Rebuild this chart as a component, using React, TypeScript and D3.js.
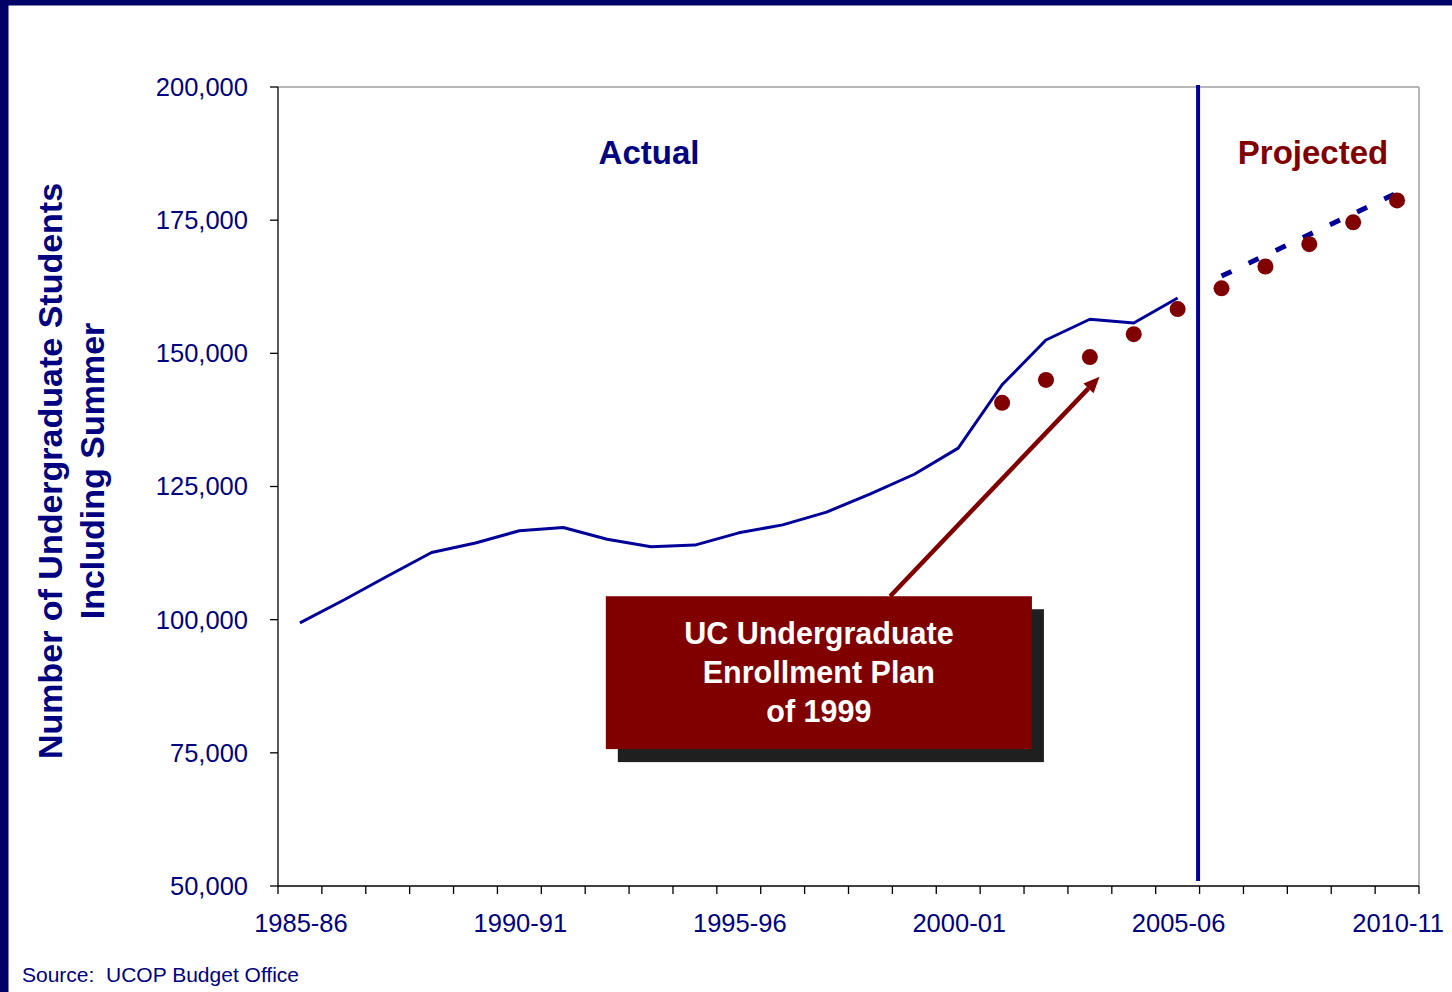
import React from 'react';
import * as d3 from 'd3';

// school years on the x axis
const years = [
  '1985-86', '1986-87', '1987-88', '1988-89', '1989-90', '1990-91', '1991-92',
  '1992-93', '1993-94', '1994-95', '1995-96', '1996-97', '1997-98', '1998-99',
  '1999-00', '2000-01', '2001-02', '2002-03', '2003-04', '2004-05', '2005-06',
  '2006-07', '2007-08', '2008-09', '2009-10', '2010-11',
];
const labelYears = ['1985-86', '1990-91', '1995-96', '2000-01', '2005-06', '2010-11'];

// actual enrollment 1985-86 .. 2005-06
const actualYears = years.slice(0, 21);
const actualValues = [
  99400, 103700, 108200, 112600, 114400, 116700, 117300, 115100, 113700, 114000,
  116300, 117800, 120200, 123600, 127300, 132200, 144100, 152500, 156400, 155700, 160400,
];

// 1999 plan, 2001-02 .. 2010-11
const planYears = years.slice(16);
const planValues = [140700, 145000, 149300, 153600, 158300, 162200, 166300, 170500, 174600, 178700];

// projected enrollment 2006-07 .. 2010-11
const projYears = years.slice(21);
const projValues = [164500, 168400, 172300, 176200, 180100];

const yTicks = [50000, 75000, 100000, 125000, 150000, 175000, 200000];

const NAVY = '#000080';
const LINE = '#000099';
const RED = '#800000';
const FONT = '"Liberation Sans", Arial, sans-serif';

const W = 1452;
const H = 992;
const left = 278, right = 1419, top = 87, bottom = 886;

const App = () => {
  const x = d3.scaleBand<string>().domain(years).range([left, right]).padding(0);
  const y = d3.scaleLinear().domain([50000, 200000]).range([bottom, top]);
  const cx = (yr: string) => (x(yr) as number) + x.bandwidth() / 2;
  const step = x.step();

  const line = d3.line<[string, number]>().x(d => cx(d[0])).y(d => y(d[1]));
  const actualPath = line(actualYears.map((yr, i) => [yr, actualValues[i]]));
  const projPath = line(projYears.map((yr, i) => [yr, projValues[i]]));

  // boundaries between bands (Excel style ticks)
  const boundaries = d3.range(years.length + 1).map(i => left + i * step);

  // callout box and arrow, placed in plot units
  const boxX0 = left + step * 7.47;
  const boxX1 = left + step * 17.18;
  const boxY0 = y(104400);
  const boxY1 = y(75700);
  const boxCx = (boxX0 + boxX1) / 2;
  const arrowFrom: [number, number] = [left + step * 13.95, boxY0];
  const arrowTo: [number, number] = [left + step * 18.72, y(145600)];
  const ang = Math.atan2(arrowTo[1] - arrowFrom[1], arrowTo[0] - arrowFrom[0]);
  const headLen = 16, headW = 7;
  const baseX = arrowTo[0] - headLen * Math.cos(ang);
  const baseY = arrowTo[1] - headLen * Math.sin(ang);
  const head = [
    arrowTo,
    [baseX + headW * Math.sin(ang), baseY - headW * Math.cos(ang)],
    [baseX - headW * Math.sin(ang), baseY + headW * Math.cos(ang)],
  ].map(p => p.join(',')).join(' ');

  const divX = (x('2006-07') as number) - 1.5;

  return (
    <svg width={W} height={H} style={{ position: 'absolute', left: 0, top: 0, background: '#fff' }}
      fontFamily={FONT}>
      {/* slide frame */}
      <rect x={0} y={0} width={W} height={5.5} fill="#000066" />
      <rect x={0} y={0} width={8.5} height={H} fill="#000066" />

      {/* plot frame */}
      <line x1={left} x2={right} y1={top} y2={top} stroke="#a0a0a0" strokeWidth={1.5} />
      <line x1={right} x2={right} y1={top} y2={bottom} stroke="#a0a0a0" strokeWidth={1.5} />
      <line x1={left} x2={left} y1={top} y2={bottom} stroke="#000" strokeWidth={1.3} />
      <line x1={left} x2={right} y1={bottom} y2={bottom} stroke="#000" strokeWidth={1.3} />

      {/* y axis */}
      {yTicks.map(t => (
        <g key={t}>
          <line x1={left - 8} x2={left} y1={y(t)} y2={y(t)} stroke="#000" strokeWidth={1.3} />
          <text x={248} y={y(t)} dy="0.35em" textAnchor="end" fontSize={25.5} fill={NAVY}>
            {d3.format(',')(t)}
          </text>
        </g>
      ))}

      {/* x axis */}
      {boundaries.map((bx, i) => (
        <line key={i} x1={bx} x2={bx} y1={bottom} y2={bottom + 8} stroke="#000" strokeWidth={1.3} />
      ))}
      {labelYears.map(yr => (
        <text key={yr} x={cx(yr) + 1} y={931.5} textAnchor="middle" fontSize={25.5} fill={NAVY}>{yr}</text>
      ))}

      {/* y title */}
      <g transform="translate(62,471) rotate(-90)">
        <text x={0} y={0} textAnchor="middle" fontSize={34} fontWeight="bold" fill={NAVY}>
          Number of Undergraduate Students
        </text>
        <text x={0} y={42} textAnchor="middle" fontSize={34} fontWeight="bold" fill={NAVY}>
          Including Summer
        </text>
      </g>

      {/* section labels */}
      <text x={649} y={164} textAnchor="middle" fontSize={33} fontWeight="bold" fill={NAVY}>Actual</text>
      <text x={1313} y={164} textAnchor="middle" fontSize={33} fontWeight="bold" fill={RED}>Projected</text>

      {/* divider */}
      <line x1={divX} x2={divX} y1={top - 2} y2={bottom - 5} stroke={LINE} strokeWidth={4} />

      {/* series */}
      <path d={actualPath ?? ''} fill="none" stroke={LINE} strokeWidth={3} strokeLinejoin="round" />
      <path d={projPath ?? ''} fill="none" stroke={LINE} strokeWidth={5} strokeDasharray="11,19" />
      {planYears.map((yr, i) => (
        <circle key={yr} cx={cx(yr)} cy={y(planValues[i])} r={8} fill={RED} />
      ))}

      {/* arrow */}
      <line x1={arrowFrom[0]} y1={arrowFrom[1]} x2={baseX} y2={baseY} stroke={RED} strokeWidth={4.5} />
      <polygon points={head} fill={RED} />

      {/* callout */}
      <rect x={boxX0 + 12} y={boxY0 + 13} width={boxX1 - boxX0} height={boxY1 - boxY0} fill="#1f1f1f" />
      <rect x={boxX0} y={boxY0} width={boxX1 - boxX0} height={boxY1 - boxY0} fill={RED} />
      <g fill="#fff" fontSize={30.5} fontWeight="bold" textAnchor="middle" style={{ whiteSpace: 'pre' }}>
        <text x={boxCx} y={boxY0 + 48}>UC Undergraduate</text>
        <text x={boxCx} y={boxY0 + 87}>Enrollment Plan</text>
        <text x={boxCx} y={boxY0 + 126}> of 1999</text>
      </g>

      {/* source */}
      <text x={22} y={982} fontSize={21} fill={NAVY} style={{ whiteSpace: 'pre' }}>Source:  UCOP Budget Office</text>
    </svg>
  );
};

export default App;
